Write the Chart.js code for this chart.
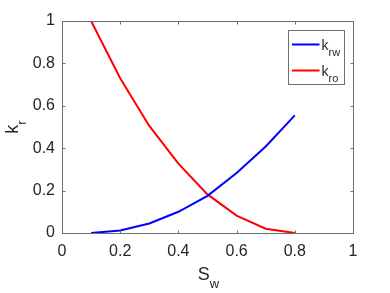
<!DOCTYPE html>
<html>
<head>
<meta charset="utf-8">
<script src="https://cdn.jsdelivr.net/npm/chart.js@4"></script>
<style>
html,body{margin:0;padding:0;background:#fff;}
canvas{display:block;}
</style>
</head>
<body>
<canvas id="c" width="390" height="293"></canvas>
<script>
// Data
const sw  = [0.1, 0.2, 0.3, 0.4, 0.5, 0.6, 0.7, 0.8];
const krw = [0, 0.012, 0.045, 0.10, 0.175, 0.283, 0.408, 0.555];
const kro = [1.0, 0.73, 0.505, 0.327, 0.182, 0.082, 0.02, 0];
const xTicks = [0, 0.2, 0.4, 0.6, 0.8, 1];
const xTickLabels = ['0', '0.2', '0.4', '0.6', '0.8', '1'];
const yTicks = [0, 0.2, 0.4, 0.6, 0.8, 1];
const yTickLabels = ['0', '0.2', '0.4', '0.6', '0.8', '1'];
const seriesNames = [['k', 'rw'], ['k', 'ro']];
const seriesColors = ['#0000ff', '#ff0000'];
const xTitle = ['S', 'w'];
const yTitle = ['k', 'r'];

const FONT = "'Liberation Sans', Arial, Helvetica, sans-serif";
const TXT = '#262626';
const AX = '#6e6e6e';

const boxPlugin = {
  id: 'boxPlugin',
  afterDraw(chart) {
    const ctx = chart.ctx;
    const a = chart.chartArea;
    const xs = chart.scales.x, ys = chart.scales.y;
    const L = Math.round(a.left) + 0.5, R = Math.round(a.right) + 0.5;
    const T = Math.round(a.top) + 0.5, B = Math.round(a.bottom) + 0.5;
    ctx.save();
    ctx.strokeStyle = AX;
    ctx.lineWidth = 1;
    ctx.strokeRect(L, T, R - L, B - T);
    const tl = 3;
    ctx.beginPath();
    xTicks.forEach(v => {
      const px = Math.round(xs.getPixelForValue(v)) + 0.5;
      ctx.moveTo(px, B); ctx.lineTo(px, B - tl);
      ctx.moveTo(px, T); ctx.lineTo(px, T + tl);
    });
    yTicks.forEach(v => {
      const py = Math.round(ys.getPixelForValue(v)) + 0.5;
      ctx.moveTo(L, py); ctx.lineTo(L + tl, py);
      ctx.moveTo(R, py); ctx.lineTo(R - tl, py);
    });
    ctx.stroke();

    // x title
    ctx.fillStyle = TXT;
    ctx.textBaseline = 'alphabetic';
    ctx.textAlign = 'left';
    const bigF = '18px ' + FONT, subF = '13px ' + FONT;
    ctx.font = bigF; const wS = ctx.measureText(xTitle[0]).width;
    ctx.font = subF; const ww = ctx.measureText(xTitle[1]).width;
    const cx = (a.left + a.right) / 2 + 1;
    let x0 = cx - (wS + ww) / 2;
    ctx.font = bigF; ctx.fillText(xTitle[0], x0, 280);
    ctx.font = subF; ctx.fillText(xTitle[1], x0 + wS, 288);

    // y title (rotated)
    ctx.font = bigF; const wk = ctx.measureText(yTitle[0]).width;
    ctx.font = subF; const wr = ctx.measureText(yTitle[1]).width;
    const cy = (a.top + a.bottom) / 2;
    ctx.save();
    ctx.translate(18, cy);
    ctx.rotate(-Math.PI / 2);
    const s0 = -(wk + wr) / 2;
    ctx.font = bigF; ctx.fillText(yTitle[0], s0, 0);
    ctx.font = subF; ctx.fillText(yTitle[1], s0 + wk, 8);
    ctx.restore();

    // legend
    const bx = 288.5, by = 30.5, bw = 56, bh = 54;
    ctx.fillStyle = '#ffffff';
    ctx.fillRect(bx, by, bw, bh);
    ctx.strokeStyle = AX;
    ctx.lineWidth = 1;
    ctx.strokeRect(bx, by, bw, bh);
    const rows = [44.5, 70.5];
    seriesNames.forEach((nm, i) => {
      const ly = rows[i];
      ctx.strokeStyle = seriesColors[i];
      ctx.lineWidth = 2;
      ctx.beginPath();
      ctx.moveTo(292, ly); ctx.lineTo(319.5, ly);
      ctx.stroke();
      ctx.fillStyle = TXT;
      ctx.font = '14px ' + FONT;
      ctx.fillText(nm[0], 321.5, ly + 5.5);
      const wkk = ctx.measureText(nm[0]).width;
      ctx.font = '11px ' + FONT;
      ctx.fillText(nm[1], 321.5 + wkk, ly + 11.5);
    });
    ctx.restore();
  }
};

new Chart(document.getElementById('c'), {
  type: 'scatter',
  data: {
    datasets: [
      { label: 'krw', data: sw.map((x, i) => ({x, y: krw[i]})), borderColor: seriesColors[0], backgroundColor: seriesColors[0], showLine: true, borderWidth: 2, pointRadius: 0, tension: 0 },
      { label: 'kro', data: sw.map((x, i) => ({x, y: kro[i]})), borderColor: seriesColors[1], backgroundColor: seriesColors[1], showLine: true, borderWidth: 2, pointRadius: 0, tension: 0 }
    ]
  },
  options: {
    responsive: false,
    animation: false,
    devicePixelRatio: 1,
    layout: { padding: { top: 21, right: 37, left: 0, bottom: 0 } },
    plugins: { legend: { display: false }, tooltip: { enabled: false } },
    scales: {
      x: {
        type: 'linear', min: 0, max: 1,
        afterFit(s) { s.height = 60; },
        afterBuildTicks(s) { s.ticks = xTicks.map(v => ({value: v})); },
        grid: { display: false, drawTicks: false },
        border: { display: false },
        ticks: { color: TXT, font: { family: FONT, size: 16 }, padding: 9, maxRotation: 0, autoSkip: false,
                 callback: (v, i) => xTickLabels[i] }
      },
      y: {
        type: 'linear', min: 0, max: 1,
        afterFit(s) { s.width = 62; },
        afterBuildTicks(s) { s.ticks = yTicks.map(v => ({value: v})); },
        grid: { display: false, drawTicks: false },
        border: { display: false },
        ticks: { color: TXT, font: { family: FONT, size: 16 }, padding: 7, autoSkip: false,
                 callback: (v, i) => yTickLabels[i] }
      }
    }
  },
  plugins: [boxPlugin]
});
</script>
</body>
</html>
